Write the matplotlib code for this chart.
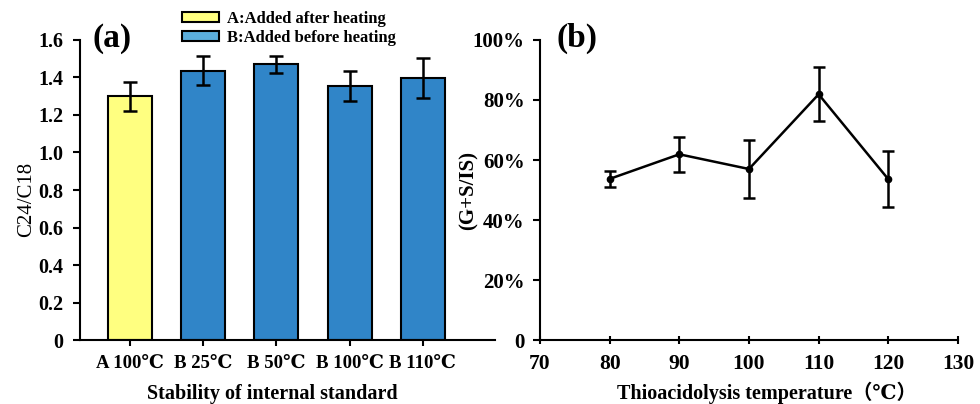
import matplotlib.pyplot as plt
from matplotlib.patches import Patch

plt.rcParams['font.family'] = ['Liberation Serif', 'DejaVu Serif', 'Noto Sans CJK SC']

# (a) 内标稳定性
categories = ['A 100℃', 'B 25℃', 'B 50℃', 'B 100℃', 'B 110℃']
ratio = [1.30, 1.435, 1.47, 1.355, 1.395]
ratio_err = [0.078, 0.077, 0.047, 0.08, 0.107]
bar_colors = ['#FFFF80', '#3085C8', '#3085C8', '#3085C8', '#3085C8']

# (b) 硫代酸解温度
temps = [80, 90, 100, 110, 120]
yield_pct = [53.7, 61.9, 57.0, 81.9, 53.6]
yield_err = [2.6, 5.9, 9.6, 9.0, 9.3]

fig = plt.figure(figsize=(9.8, 4.04), dpi=100)
ax1 = fig.add_axes([0.0816, 0.1584, 0.4235, 0.7426])
ax2 = fig.add_axes([0.551, 0.1584, 0.4265, 0.7426])

bold = dict(fontweight='bold')

# 柱状图
pos = list(range(len(categories)))
ax1.bar(pos, ratio, width=0.6, color=bar_colors, edgecolor='black', linewidth=1.5, zorder=2)
ax1.errorbar(pos, ratio, yerr=ratio_err, fmt='none', ecolor='black', elinewidth=1.8,
             capsize=5, capthick=1.8, zorder=3)
ax1.set_xlim(-0.683, 4.986)
ax1.set_ylim(0, 1.6)
ax1.set_yticks([0, 0.2, 0.4, 0.6, 0.8, 1.0, 1.2, 1.4, 1.6])
ax1.set_yticklabels(['0', '0.2', '0.4', '0.6', '0.8', '1.0', '1.2', '1.4', '1.6'])
ax1.set_xticks(pos)
ax1.set_xticklabels(categories)
ax1.set_ylabel('C24/C18', fontsize=15)
ax1.set_xlabel('Stability of internal standard', fontsize=14.5, **bold)
ax1.xaxis.set_label_coords(0.463, -0.145)
ax1.yaxis.set_label_coords(-0.105, 0.47)
ax1.text(0.03, 1.005, '(a)', transform=ax1.transAxes, fontsize=24, va='center', **bold)

# 图例
handles = [Patch(facecolor='#FFFF80', edgecolor='black', linewidth=1.5, label='A:Added after heating'),
           Patch(facecolor='#5BAEDC', edgecolor='black', linewidth=1.5, label='B:Added before heating')]
ax1.legend(handles=handles, loc='upper left', bbox_to_anchor=(0.23, 1.12), frameon=False,
           prop=dict(family=['Liberation Serif'], weight='bold', size=12),
           handlelength=2.2, handleheight=0.55, labelspacing=0.22, handletextpad=0.5,
           borderaxespad=0)

# 折线图
ax2.errorbar(temps, yield_pct, yerr=yield_err, fmt='-o', color='black', linewidth=1.8,
             markersize=4.5, elinewidth=1.8, capsize=4.5, capthick=1.8)
ax2.set_xlim(70, 130)
ax2.set_ylim(0, 100)
ax2.set_xticks([70, 80, 90, 100, 110, 120, 130])
ax2.set_yticks([0, 20, 40, 60, 80, 100])
ax2.set_yticklabels(['0', '20%', '40%', '60%', '80%', '100%'])
ax2.set_ylabel('(G+S/IS)', fontsize=15, **bold)
ax2.set_xlabel('Thioacidolysis temperature（℃）', fontsize=14.5, **bold)
ax2.xaxis.set_label_coords(0.543, -0.14)
ax2.yaxis.set_label_coords(-0.147, 0.5)
ax2.text(0.04, 1.005, '(b)', transform=ax2.transAxes, fontsize=24, va='center', **bold)

for ax in (ax1, ax2):
    for s in ('top', 'right'):
        ax.spines[s].set_visible(False)
    for s in ('left', 'bottom'):
        ax.spines[s].set_linewidth(1.5)
    ax.tick_params(width=1.5)
ax1.tick_params(axis='y', length=5, labelsize=14.5, pad=7)
ax1.tick_params(axis='x', length=4, labelsize=13.5, pad=7)
ax2.tick_params(axis='y', length=5, labelsize=15, pad=6)
ax2.tick_params(axis='x', direction='inout', length=6, labelsize=15.5, pad=7)
for ax in (ax1, ax2):
    for lab in ax.get_xticklabels() + ax.get_yticklabels():
        lab.set_fontweight('bold')

fig.savefig('out.png', dpi=100)
